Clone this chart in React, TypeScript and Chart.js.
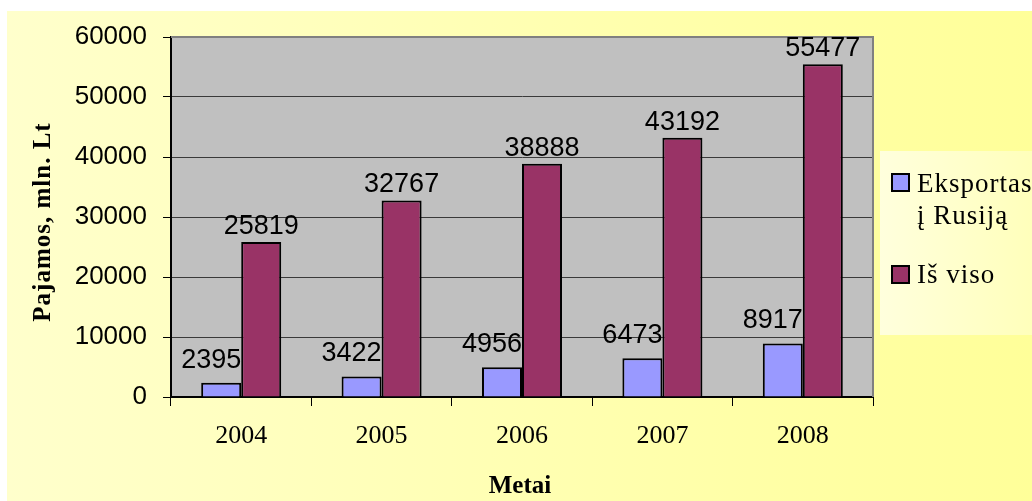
import React, { useEffect, useRef } from "react";
import { Chart, registerables } from "chart.js";

Chart.register(...registerables);

const categories = ["2004", "2005", "2006", "2007", "2008"];
const exportRussia = [2395, 3422, 4956, 6473, 8917];
const total = [25819, 32767, 38888, 43192, 55477];
const seriesNames = [["Eksportas", "į Rusiją"], ["Iš viso"]];
const yTitle = "Pajamos, mln. Lt";
const xTitle = "Metai";

const SERIF = '"Liberation Serif", "Times New Roman", serif';
const SANS = '"Liberation Sans", Arial, sans-serif';

const decorPlugin = {
  id: "decor",
  beforeDraw(chart: any) {
    const { ctx, width, height, chartArea } = chart;
    ctx.save();
    ctx.fillStyle = "#ffffff";
    ctx.fillRect(0, 0, width, height);
    const g = ctx.createLinearGradient(7, 0, width, 0);
    g.addColorStop(0, "#ffffcc");
    g.addColorStop(1, "#ffff99");
    ctx.fillStyle = g;
    ctx.fillRect(7, 11, width - 7, height - 11);
    ctx.fillStyle = "#c0c0c0";
    ctx.fillRect(chartArea.left, chartArea.top, chartArea.right - chartArea.left, chartArea.bottom - chartArea.top);
    ctx.restore();
  },
  afterDraw(chart: any) {
    const { ctx, chartArea } = chart;
    ctx.save();
    // plot frame top/right
    ctx.strokeStyle = "#808080";
    ctx.lineWidth = 2;
    ctx.beginPath();
    ctx.moveTo(chartArea.left, chartArea.top);
    ctx.lineTo(chartArea.right, chartArea.top);
    ctx.lineTo(chartArea.right, chartArea.bottom);
    ctx.stroke();

    // axis titles
    ctx.fillStyle = "#000";
    ctx.font = `bold 25px ${SERIF}`;
    ctx.textAlign = "center";
    ctx.textBaseline = "middle";
    ctx.save();
    ctx.translate(44, (chartArea.top + chartArea.bottom) / 2 + 5);
    ctx.rotate(-Math.PI / 2);
    (ctx as any).letterSpacing = "1px";
    ctx.fillText(yTitle, 0, 0);
    ctx.restore();
    ctx.fillText(xTitle, 520, 487);

    // legend
    const lg = ctx.createLinearGradient(880, 0, 1032, 0);
    lg.addColorStop(0, "#ffffdd");
    lg.addColorStop(1, "#ffffbb");
    ctx.fillStyle = lg;
    ctx.fillRect(880, 151, 152, 184);
    const ds = chart.data.datasets;
    const rows = [
      { sq: 174, lines: [192, 224] },
      { sq: 266, lines: [283] },
    ];
    ctx.save();
    ctx.font = `27px ${SERIF}`;
    (ctx as any).letterSpacing = "1px";
    ctx.textAlign = "left";
    ctx.textBaseline = "alphabetic";
    rows.forEach((r, i) => {
      ctx.fillStyle = ds[i].backgroundColor;
      ctx.fillRect(892, r.sq, 17, 17);
      ctx.strokeStyle = "#000";
      ctx.lineWidth = 2;
      ctx.strokeRect(892, r.sq, 17, 17);
      ctx.fillStyle = "#000";
      seriesNames[i].forEach((t, j) => ctx.fillText(t, 917, r.lines[j]));
    });
    ctx.restore();

    // data labels
    ctx.font = `27px ${SANS}`;
    ctx.textAlign = "center";
    ctx.textBaseline = "alphabetic";
    ctx.fillStyle = "#000";
    ds.forEach((d: any, di: number) => {
      const meta = chart.getDatasetMeta(di);
      meta.data.forEach((bar: any, i: number) => {
        const dx = di === 0 ? -10 : 0;
        const gap = di === 0 ? 15 : 8;
        ctx.fillText(String(d.data[i]), bar.x + dx, bar.y - gap);
      });
    });
    ctx.restore();
  },
};

export default function App() {
  const ref = useRef<HTMLCanvasElement>(null);
  useEffect(() => {
    if (!ref.current) return;
    const chart = new Chart(ref.current, {
      type: "bar",
      data: {
        labels: categories,
        datasets: [
          {
            label: seriesNames[0].join(" "),
            data: exportRussia,
            backgroundColor: "#9999ff",
            borderColor: "#000000",
            borderWidth: 2,
            categoryPercentage: 0.57,
            barPercentage: 1,
          },
          {
            label: seriesNames[1].join(" "),
            data: total,
            backgroundColor: "#993366",
            borderColor: "#000000",
            borderWidth: 2,
            categoryPercentage: 0.57,
            barPercentage: 1,
          },
        ],
      },
      options: {
        responsive: false,
        animation: false,
        layout: { padding: { left: 0, top: 37, right: 159, bottom: 0 } },
        plugins: { legend: { display: false }, tooltip: { enabled: false }, title: { display: false } },
        scales: {
          x: {
            offset: true,
            afterFit: (s: any) => {
              s.height = 104;
            },
            grid: { offset: true, drawOnChartArea: false, drawTicks: true, tickLength: 9, color: "#000", lineWidth: 1 },
            border: { color: "#000", width: 2 },
            ticks: { font: { family: SERIF, size: 26 }, color: "#000", padding: 15, maxRotation: 0 },
          },
          y: {
            min: 0,
            max: 60000,
            afterFit: (s: any) => {
              s.width = 171;
            },
            grid: { color: "#3a3a3a", lineWidth: 1, drawTicks: true, tickLength: 8, tickColor: "#000" },
            border: { color: "#000", width: 2 },
            ticks: {
              stepSize: 10000,
              font: { family: SANS, size: 26 },
              color: "#000",
              padding: 16,
              callback: (v: any) => String(v),
            },
          },
        },
      },
      plugins: [decorPlugin],
    });
    return () => chart.destroy();
  }, []);
  return (
    <div style={{ position: "fixed", left: 0, top: 0, width: 1032, height: 501 }}>
      <canvas ref={ref} width={1032} height={501} style={{ display: "block", width: 1032, height: 501 }} />
    </div>
  );
}
